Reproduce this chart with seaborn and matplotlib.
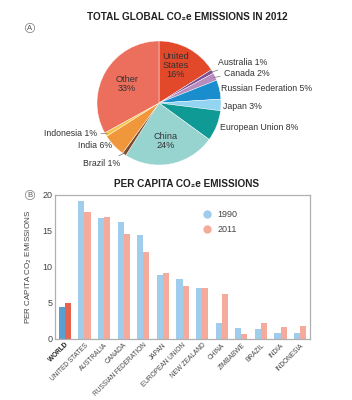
import numpy as np
import pandas as pd
import matplotlib
matplotlib.use("Agg")
import matplotlib.pyplot as plt
from matplotlib.lines import Line2D
import seaborn as sns

# ---- data ----
pie_labels = ["United States", "Australia", "Canada", "Russian Federation", "Japan",
              "European Union", "China", "Brazil", "India", "Indonesia", "Other"]
pie_values = [16, 1, 2, 5, 3, 8, 24, 1, 6, 1, 33]
pie_colors = ["#e2492b", "#7d4f8f", "#b98cc0", "#1a8dcc", "#92d4f1",
              "#0f9a95", "#97d4d0", "#7b4a2b", "#f1973b", "#f7c545", "#ec6e5c"]

countries = ["WORLD", "UNITED STATES", "AUSTRALIA", "CANADA", "RUSSIAN FEDERATION",
             "JAPAN", "EUROPEAN UNION", "NEW ZEALAND", "CHINA", "ZIMBABWE",
             "BRAZIL", "INDIA", "INDONESIA"]
pc_1990 = [4.5, 19.1, 16.8, 16.2, 14.4, 8.9, 8.4, 7.1, 2.2, 1.5, 1.4, 0.8, 0.8]
pc_2011 = [5.0, 17.6, 16.9, 14.6, 12.1, 9.2, 7.4, 7.1, 6.2, 0.7, 2.2, 1.7, 1.8]
years = ["1990", "2011"]
yticks = [0, 5, 10, 15, 20]

sns.set_theme(style="white")
plt.rcParams['font.family'] = ['Liberation Sans Narrow', 'Liberation Sans', 'DejaVu Sans']

fig = plt.figure(figsize=(3.52, 4.0), dpi=100)

# ---- Pie ----
axp = fig.add_axes([97/352, 1-165/400, 124/352, 124/400])
wedges, _ = axp.pie(pie_values, colors=pie_colors, startangle=90, counterclock=False,
                    wedgeprops=dict(linewidth=0.3, edgecolor="white"))
axp.set_aspect("equal")
axp.set_xlim(-1, 1)
axp.set_ylim(-1, 1)

tc = "#333333"
lc = "#777777"
def mid_angle(w):
    return np.deg2rad((w.theta1 + w.theta2) / 2)

def edge(w, r=1.0):
    a = mid_angle(w)
    return np.cos(a) * r, np.sin(a) * r

fs = 6.3
# inside labels
for name, txt, pos in [("United States", "United\nStates\n16%", (0.27, 0.60)),
                       ("Other", "Other\n33%", (-0.52, 0.31)),
                       ("China", "China\n24%", (0.10, -0.61))]:
    axp.text(pos[0], pos[1], txt, ha="center", va="center", fontsize=6.6, color=tc,
             linespacing=1.0)

# outside labels: (name, text position, ha, leader)
outside = [("Australia", (0.95, 0.66), "left", True),
           ("Canada", (1.05, 0.48), "left", True),
           ("Russian Federation", (1.0, 0.24), "left", False),
           ("Japan", (1.03, -0.06), "left", False),
           ("European Union", (0.98, -0.40), "left", False),
           ("Brazil", (-0.63, -0.98), "right", True),
           ("India", (-0.76, -0.69), "right", False),
           ("Indonesia", (-1.0, -0.50), "right", True)]
for name, pos, ha, lead in outside:
    i = pie_labels.index(name)
    w = wedges[i]
    txt = f"{name} {pie_values[i]}%"
    if lead:
        ex, ey = edge(w, 0.97)
        axp.annotate(txt, xy=(ex, ey), xytext=pos, ha=ha, va="center", fontsize=fs,
                     color=tc, arrowprops=dict(arrowstyle="-", color=lc, lw=0.5,
                                               shrinkA=0.5, shrinkB=0))
    else:
        axp.text(pos[0], pos[1], txt, ha=ha, va="center", fontsize=fs, color=tc)

fig.text(187/352, 1-17/400, "TOTAL GLOBAL CO₂e EMISSIONS IN 2012", ha="center", va="center",
         fontsize=7.2, fontweight="bold", color="#222222")
fig.text(30/352, 1-28/400, "A", ha="center", va="center", fontsize=5.5, color="#555555",
         bbox=dict(boxstyle="circle,pad=0.15", fc="white", ec="#777777", lw=0.5))

# ---- Bars ----
axb = fig.add_axes([55/352, 1-339/400, 255/352, 144/400])
df = pd.DataFrame({
    "country": countries * 2,
    "value": pc_1990 + pc_2011,
    "year": [years[0]] * len(countries) + [years[1]] * len(countries),
})
light = {"1990": "#a0cdec", "2011": "#f5ab9c"}
dark = {"1990": "#5a9fd2", "2011": "#e8624e"}
sns.barplot(data=df, x="country", y="value", hue="year", palette=light, ax=axb,
            width=0.62, dodge=True, legend=False, saturation=1, errorbar=None)
# emphasize WORLD bars
n = len(countries)
for k, yr in enumerate(years):
    axb.patches[k * n].set_facecolor(dark[yr])
for p in axb.patches:
    p.set_edgecolor("none")

axb.set_xlim(-0.5, n - 0.5)
axb.set_ylim(0, 20)
axb.set_yticks(yticks)
axb.set_yticklabels([str(t) for t in yticks], fontsize=6.5, color="#444444")
axb.set_xticks(range(n))
axb.set_xticklabels(countries, rotation=45, ha="right", rotation_mode="anchor",
                    fontsize=4.7, color="#444444")
axb.get_xticklabels()[0].set_fontweight("bold")
axb.get_xticklabels()[0].set_color("#222222")
axb.tick_params(axis="both", length=0, pad=2)
axb.set_xlabel("")
axb.set_ylabel("PER CAPITA CO$_2$ EMISSIONS", fontsize=5.8, color="#444444", labelpad=6)
for s in axb.spines.values():
    s.set_color("#b0b0b0")
    s.set_linewidth(0.9)

handles = [Line2D([], [], marker="o", ls="none", color=light[y], markersize=5) for y in years]
axb.legend(handles, years, loc="upper left", bbox_to_anchor=(0.53, 0.95), frameon=False,
           fontsize=6.5, handletextpad=0.1, labelspacing=0.6, labelcolor="#444444")

fig.text(187/352, 1-184/400, "PER CAPITA CO₂e EMISSIONS", ha="center", va="center",
         fontsize=7.2, fontweight="bold", color="#222222")
fig.text(30/352, 1-195/400, "B", ha="center", va="center", fontsize=5.5, color="#555555",
         bbox=dict(boxstyle="circle,pad=0.15", fc="white", ec="#777777", lw=0.5))

fig.savefig("out.png", dpi=100)
